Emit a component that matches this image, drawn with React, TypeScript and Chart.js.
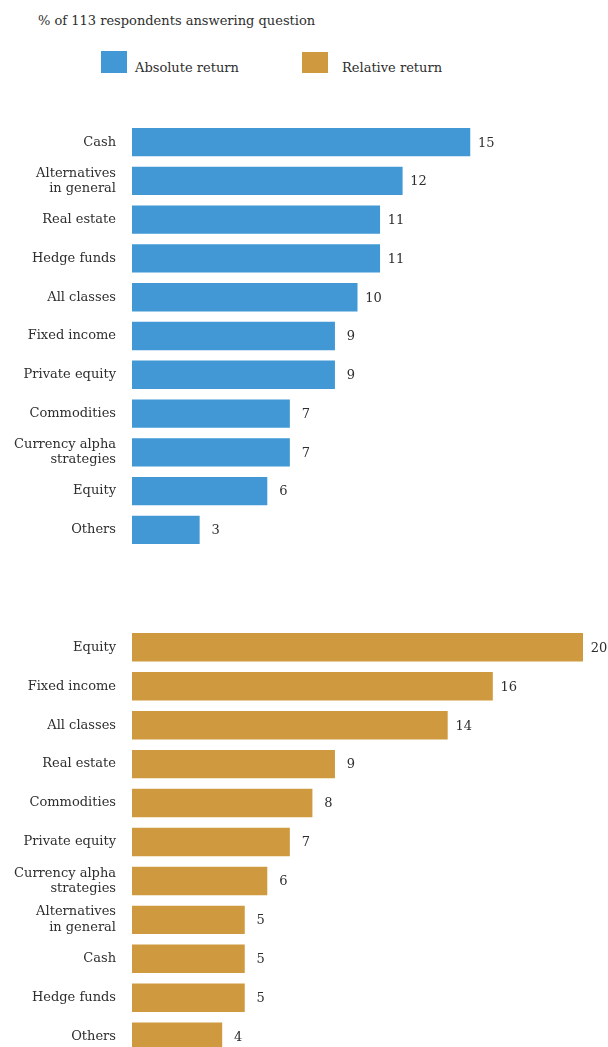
import React, { useEffect, useRef } from "react";
import { Chart, registerables } from "chart.js";

Chart.register(...registerables);

const titleText = "% of 113 respondents answering question";
const seriesNames = ["Absolute return", "Relative return"];
const seriesColors = ["#4198d5", "#cf9a3f"];

const absoluteCategories: (string | string[])[] = [
  "Cash",
  ["Alternatives", "in general"],
  "Real estate",
  "Hedge funds",
  "All classes",
  "Fixed income",
  "Private equity",
  "Commodities",
  ["Currency alpha", "strategies"],
  "Equity",
  "Others",
];
const absoluteValues = [15, 12, 11, 11, 10, 9, 9, 7, 7, 6, 3];

const relativeCategories: (string | string[])[] = [
  "Equity",
  "Fixed income",
  "All classes",
  "Real estate",
  "Commodities",
  "Private equity",
  ["Currency alpha", "strategies"],
  ["Alternatives", "in general"],
  "Cash",
  "Hedge funds",
  "Others",
];
const relativeValues = [20, 16, 14, 9, 8, 7, 6, 5, 5, 5, 4];

const FONT = "'DejaVu Serif', serif";
const TEXT = "#2e2e2e";

const valueLabelPlugin = {
  id: "valueLabels",
  afterDatasetsDraw(chart: any) {
    const ctx = chart.ctx;
    ctx.save();
    ctx.font = `13px ${FONT}`;
    ctx.fillStyle = TEXT;
    ctx.textAlign = "center";
    ctx.textBaseline = "middle";
    const meta = chart.getDatasetMeta(0);
    const data = chart.data.datasets[0].data;
    meta.data.forEach((bar: any, i: number) => {
      ctx.fillText(String(data[i]), bar.x + 16, bar.y + 1);
    });
    ctx.restore();
  },
};

function BarChart({
  labels,
  values,
  color,
  name,
  top,
  height,
}: {
  labels: (string | string[])[];
  values: number[];
  color: string;
  name: string;
  top: number;
  height: number;
}) {
  const ref = useRef<HTMLCanvasElement | null>(null);
  useEffect(() => {
    if (!ref.current) return;
    const chart = new Chart(ref.current, {
      type: "bar",
      data: {
        labels,
        datasets: [
          {
            label: name,
            data: values,
            backgroundColor: color,
            borderWidth: 0,
            categoryPercentage: 1,
            barPercentage: 0.73,
          },
        ],
      },
      options: {
        indexAxis: "y",
        animation: false,
        responsive: false,
        layout: { padding: { top: 10, bottom: 12, left: 0, right: 25 } },
        plugins: {
          legend: { display: false },
          tooltip: { enabled: false },
          title: { display: false },
        },
        scales: {
          x: { display: false, min: 0, max: 20 },
          y: {
            grid: { display: false, drawTicks: false },
            border: { display: false },
            ticks: {
              padding: 16,
              color: TEXT,
              font: { family: FONT, size: 13, lineHeight: 1.2 },
            },
            afterFit(scale: any) {
              scale.width = 132;
            },
          },
        },
      },
      plugins: [valueLabelPlugin],
    } as any);
    return () => chart.destroy();
  }, []);
  return (
    <canvas
      ref={ref}
      width={608}
      height={height}
      style={{ position: "absolute", left: 0, top, width: 608, height }}
    />
  );
}

export default function App() {
  return (
    <div
      style={{
        position: "fixed",
        left: 0,
        top: 0,
        width: 608,
        height: 1047,
        overflow: "hidden",
        background: "#ffffff",
        fontFamily: FONT,
        color: TEXT,
      }}
    >
      <div
        style={{
          position: "absolute",
          left: 38,
          top: 12,
          fontSize: 13,
          lineHeight: "18px",
          whiteSpace: "nowrap",
        }}
      >
        {titleText}
      </div>
      <div
        style={{
          position: "absolute",
          left: 101,
          top: 51,
          width: 26,
          height: 22,
          background: seriesColors[0],
        }}
      />
      <div
        style={{
          position: "absolute",
          left: 135,
          top: 59,
          fontSize: 13,
          lineHeight: "18px",
          whiteSpace: "nowrap",
        }}
      >
        {seriesNames[0]}
      </div>
      <div
        style={{
          position: "absolute",
          left: 302,
          top: 52,
          width: 26,
          height: 21,
          background: seriesColors[1],
        }}
      />
      <div
        style={{
          position: "absolute",
          left: 342,
          top: 59,
          fontSize: 13,
          lineHeight: "18px",
          whiteSpace: "nowrap",
        }}
      >
        {seriesNames[1]}
      </div>
      <BarChart
        labels={absoluteCategories}
        values={absoluteValues}
        color={seriesColors[0]}
        name={seriesNames[0]}
        top={99}
        height={474}
      />
      <BarChart
        labels={relativeCategories}
        values={relativeValues}
        color={seriesColors[1]}
        name={seriesNames[1]}
        top={604}
        height={476}
      />
    </div>
  );
}
